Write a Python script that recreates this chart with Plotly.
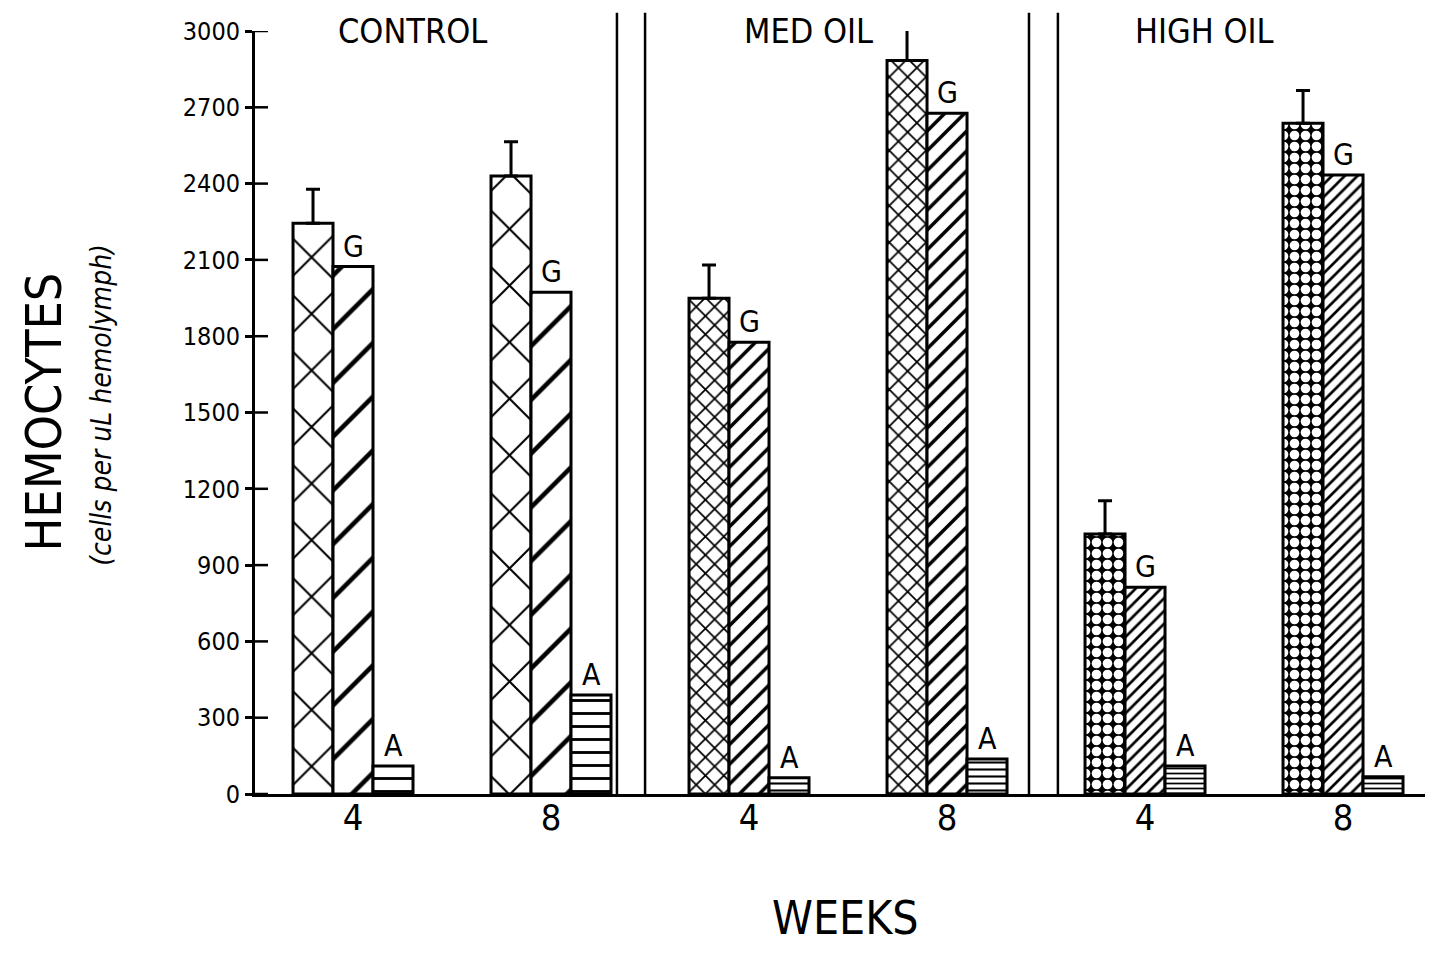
import plotly.graph_objects as go

# ---- data ----
groups = ["CONTROL", "MED OIL", "HIGH OIL"]
weeks = ["4", "8", "4", "8", "4", "8"]
total = [2244, 2430, 1949, 2884, 1022, 2637]          # T
total_err = [134, 135, 131, 126, 131, 129]
granular = [2074, 1973, 1776, 2677, 813, 2434]         # G
agranular = [110, 389, 64, 138, 110, 68]               # A
yticks = [0, 300, 600, 900, 1200, 1500, 1800, 2100, 2400, 2700, 3000]

FONT = "Liberation Sans Narrow, DejaVu Sans Condensed, Roboto Condensed, Arial Narrow, DejaVu Sans, sans-serif"
idx = list(range(len(weeks)))
BW = 0.202
PW = 1170  # plot width in px

fig = go.Figure()
fig.add_trace(go.Bar(
    x=idx, y=total, name="T",
    error_y=dict(type="data", array=total_err, arrayminus=[0] * 6, symmetric=False,
                 color="black", thickness=3, width=7),
    marker=dict(color="white", line=dict(color="black", width=3),
                pattern=dict(shape=["x", "x", "x", "x", ".", "."],
                             size=[40, 40, 13, 13, 11, 11],
                             solidity=[0.1, 0.1, 0.25, 0.25, 0.6, 0.6],
                             fgcolor=["black"] * 4 + ["white"] * 2,
                             bgcolor=["white"] * 4 + ["black"] * 2,
                             fgopacity=1))))
fig.add_trace(go.Bar(
    x=idx, y=granular, name="G",
    marker=dict(color="white", line=dict(color="black", width=3),
                pattern=dict(shape="/", size=[38, 38, 14, 14, 9, 9],
                             solidity=[0.12, 0.12, 0.25, 0.25, 0.3, 0.3],
                             fgcolor="black", bgcolor="white", fgopacity=1))))
fig.add_trace(go.Bar(
    x=idx, y=agranular, name="A",
    marker=dict(color="white", line=dict(color="black", width=3),
                pattern=dict(shape="-", size=[13, 13, 7, 7, 5, 5],
                             solidity=[0.22, 0.22, 0.3, 0.3, 0.35, 0.35],
                             fgcolor="black", bgcolor="white", fgopacity=1))))

ann = []
for i in idx:
    ann.append(dict(x=i, y=granular[i], text="G", xref="x", yref="y", showarrow=False,
                    xanchor="center", yanchor="bottom", yshift=1,
                    font=dict(family=FONT, size=30, color="black")))
    ann.append(dict(x=i + BW, y=agranular[i], text="A", xref="x", yref="y", showarrow=False,
                    xanchor="center", yanchor="bottom", yshift=1,
                    font=dict(family=FONT, size=30, color="black")))
for g, xc in zip(groups, [0.3, 2.3, 4.3]):
    ann.append(dict(x=xc, y=1.0, xref="x", yref="paper", text=g, showarrow=False,
                    xanchor="center", yanchor="middle",
                    font=dict(family=FONT, size=34, color="black")))
ann.append(dict(x=-212 / PW, y=0.5, xref="paper", yref="paper", text="HEMOCYTES", textangle=-90,
                xanchor="center", yanchor="middle", showarrow=False,
                font=dict(family=FONT, size=50, color="black")))
ann.append(dict(x=-153 / PW, y=0.51, xref="paper", yref="paper",
                text="<i>(cells per uL hemolymph)</i>", textangle=-90,
                xanchor="center", yanchor="middle", showarrow=False,
                font=dict(family=FONT, size=28, color="black")))
ann.append(dict(x=0.505, y=-124 / 763, xref="paper", yref="paper", text="WEEKS",
                xanchor="center", yanchor="middle", showarrow=False,
                font=dict(family=FONT, size=46, color="black")))

shapes = []
for xs in [1.333, 1.475, 3.414, 3.56]:
    shapes.append(dict(type="line", xref="x", yref="paper", x0=xs, x1=xs, y0=0, y1=1.024,
                       line=dict(color="black", width=2.5)))
for t in yticks:
    shapes.append(dict(type="line", xref="paper", yref="y", x0=0, x1=13 / PW, y0=t, y1=t,
                       line=dict(color="black", width=2.5)))

# page body has an 8px default margin; size the figure so the plot lands where it should
fig.update_layout(
    width=1417, height=937,
    margin=dict(l=247, r=0, t=23, b=151),
    paper_bgcolor="white", plot_bgcolor="white",
    barmode="group", bargap=1 - 3 * BW, bargroupgap=0,
    showlegend=False,
    annotations=ann, shapes=shapes,
    font=dict(family=FONT, color="black"),
)
fig.update_xaxes(range=[-0.495, 5.414], tickvals=idx, ticktext=weeks, showline=True,
                 linecolor="black", linewidth=3, ticks="", showgrid=False, zeroline=False,
                 tickfont=dict(family=FONT, size=36, color="black"), ticklabelstandoff=-10)
fig.update_yaxes(range=[0, 3000], tickvals=yticks, showline=True, linecolor="black", linewidth=3,
                 ticks="outside", ticklen=7, tickwidth=2.5, tickcolor="black", showgrid=False,
                 zeroline=False, tickfont=dict(family=FONT, size=25, color="black"),
                 ticklabelstandoff=0)

fig.write_html("out.html")
